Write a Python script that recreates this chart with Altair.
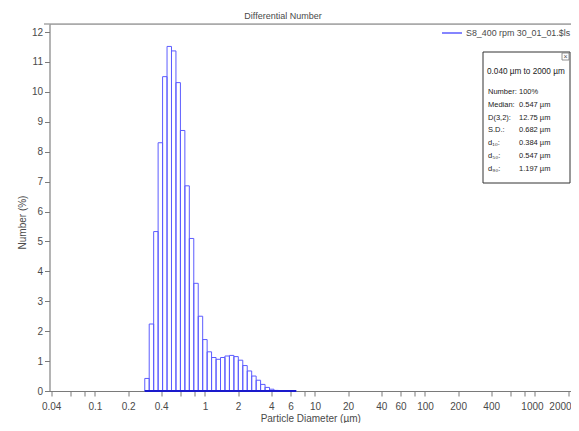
import altair as alt
import pandas as pd

# ---- data ----
bin_edges_um = [0.2836, 0.3112, 0.3416, 0.3750, 0.4117, 0.4519, 0.4961, 0.5446, 0.5979,
                0.6563, 0.7205, 0.7909, 0.8682, 0.9531, 1.046, 1.148, 1.261, 1.384, 1.519,
                1.668, 1.831, 2.009, 2.206, 2.421, 2.658, 2.918, 3.203, 3.516, 3.860, 4.237,
                4.652, 5.106, 5.605, 6.153, 6.755]
number_pct = [0.42, 2.24, 5.33, 8.30, 10.51, 11.52, 11.37, 10.31, 8.71, 6.86, 5.10, 3.60,
              2.50, 1.72, 1.31, 1.12, 1.06, 1.12, 1.17, 1.19, 1.15, 1.03, 0.85, 0.67, 0.50,
              0.36, 0.22, 0.12, 0.06, 0.02, 0.01, 0.0, 0.0, 0.0]
x_ticks = [0.04, 0.06, 0.08, 0.1, 0.2, 0.4, 0.6, 0.8, 1, 2, 4, 6, 8, 10, 20, 40, 60, 80,
           100, 200, 400, 600, 800, 1000, 2000]
x_labels = ["0.04", "", "", "0.1", "0.2", "0.4", "", "", "1", "2", "4", "6", "", "10", "20",
            "40", "60", "", "100", "200", "400", "", "", "1000", "2000"]
y_ticks = [0, 1, 2, 3, 4, 5, 6, 7, 8, 9, 10, 11, 12]
title_text = "Differential Number"
series_name = "S8_400 rpm 30_01_01.$ls"
range_text = "0.040 µm to 2000 µm"
stat_names = ["Number:", "Median:", "D(3,2):", "S.D.:", "d₁₀:", "d₅₀:", "d₉₀:"]
stat_values = ["100%", "0.547 µm", "12.75 µm", "0.682 µm", "0.384 µm", "0.547 µm", "1.197 µm"]

df = pd.DataFrame({"lo": bin_edges_um[:-1], "hi": bin_edges_um[1:], "pct": number_pct,
                   "z": [0.0] * len(number_pct)})
base_df = pd.DataFrame({"lo": [bin_edges_um[0]], "hi": [bin_edges_um[-1]], "pct": [0.0]})

W, H = 521.5, 367
SANS = "Liberation Sans, Arial, sans-serif"
BAR = "#5c5cff"
AX = "#7a7a7a"
TXT = "#4a4a4a"

label_map = "{" + ",".join(f"'{v}':'{l}'" for v, l in zip(x_ticks, x_labels)) + "}"

xscale = alt.Scale(type="log", domain=[0.0386, 2125], nice=False)
yscale = alt.Scale(domain=[0, 12.27], nice=False, zero=True)

xaxis = alt.Axis(values=x_ticks, labelExpr=f"{label_map}[datum.value + ''] || ''",
                 title="Particle Diameter (µm)", grid=False, tickSize=5, labelPadding=5,
                 domainColor=AX, tickColor=AX, labelColor=TXT, titleColor=TXT,
                 labelFont=SANS, titleFont=SANS, labelFontSize=10, titleFontSize=10,
                 titleFontWeight="normal", titleY=30, titleBaseline="alphabetic",
                 labelFlush=False, labelOverlap=False,
                 labelAlign=alt.condition("datum.value >= 2000", alt.value("right"),
                                          alt.value("center")),
                 labelOffset={"expr": "datum.value >= 2000 ? 3 : (datum.value == 1000 ? -3 : 0)"})
yaxis = alt.Axis(values=y_ticks, tickCount=13, title="Number (%)", grid=False, tickSize=5,
                 labelPadding=2, domainColor=AX, tickColor=AX, labelColor=TXT,
                 titleColor=TXT, labelFont=SANS, titleFont=SANS, labelFontSize=10,
                 titleFontSize=10, titleFontWeight="normal", titleX=-27, titleY=198,
                 titleAngle=-90, titleAlign="center", titleBaseline="middle",
                 labelOverlap=False, labelFlush=False)

bars = alt.Chart(df).mark_rect(fillOpacity=0, stroke=BAR, strokeWidth=1).encode(
    x=alt.X("lo:Q", scale=xscale, axis=xaxis),
    x2="hi:Q",
    y=alt.Y("pct:Q", scale=yscale, axis=yaxis),
    y2="z:Q",
)

baseline = alt.Chart(base_df).mark_rule(color="#1a1acc", strokeWidth=2).encode(
    x=alt.X("lo:Q", scale=xscale, axis=xaxis), x2="hi:Q",
    y=alt.Y("pct:Q", scale=yscale, axis=yaxis)
)

one = pd.DataFrame({"t": [title_text], "s": [series_name], "r": [range_text],
                    "n": ["\n".join(stat_names)], "v": ["\n".join(stat_values)]})

top_line = alt.Chart(one).mark_rule(color=AX, strokeWidth=1).encode(
    x=alt.value(-5.5), x2=alt.value(W), y=alt.value(0))

title = alt.Chart(one).mark_text(font=SANS, fontSize=9, color=TXT, align="center",
                                 baseline="alphabetic").encode(
    text="t:N", x=alt.value(233.5), y=alt.value(-5))

leg_line = alt.Chart(one).mark_rule(color=BAR, strokeWidth=1.5).encode(
    x=alt.value(392.5), x2=alt.value(412.5), y=alt.value(9))
leg_text = alt.Chart(one).mark_text(font=SANS, fontSize=8.9, color=TXT, align="left",
                                    baseline="middle").encode(
    text="s:N", x=alt.value(416.5), y=alt.value(9))

box = alt.Chart(one).mark_rect(fill="white", stroke="#333333", strokeWidth=1).encode(
    x=alt.value(433.5), x2=alt.value(520.5), y=alt.value(28), y2=alt.value(159))
close_box = alt.Chart(one).mark_rect(fill="white", stroke="#777777", strokeWidth=0.8).encode(
    x=alt.value(512.5), x2=alt.value(519.5), y=alt.value(29), y2=alt.value(36))
close_x = alt.Chart(one).mark_text(font=SANS, fontSize=7, color="#555555", align="center",
                                   baseline="middle").encode(
    text=alt.value("×"), x=alt.value(516), y=alt.value(32.5))
range_t = alt.Chart(one).mark_text(font=SANS, fontSize=8.2, color="#222222", align="left",
                                   baseline="middle").encode(
    text="r:N", x=alt.value(437.5), y=alt.value(48))
names_t = alt.Chart(one).mark_text(font=SANS, fontSize=7.5, color="#222222", align="left",
                                   baseline="middle", lineBreak="\n", lineHeight=12.8).encode(
    text="n:N", x=alt.value(438.5), y=alt.value(68))
vals_t = alt.Chart(one).mark_text(font=SANS, fontSize=7.5, color="#222222", align="left",
                                  baseline="middle", lineBreak="\n", lineHeight=12.8).encode(
    text="v:N", x=alt.value(469.5), y=alt.value(68))

chart = alt.layer(bars, baseline, top_line, title, leg_line, leg_text, box, close_box,
                  close_x, range_t, names_t, vals_t).properties(
    width=W, height=H,
    autosize=alt.AutoSizeParams(type="none"),
    padding={"left": 41.5, "top": 16, "right": 0, "bottom": 32},
).configure_view(stroke="transparent").configure(background="white")

chart.save("out.html", embed_options={"renderer": "svg", "actions": False})
